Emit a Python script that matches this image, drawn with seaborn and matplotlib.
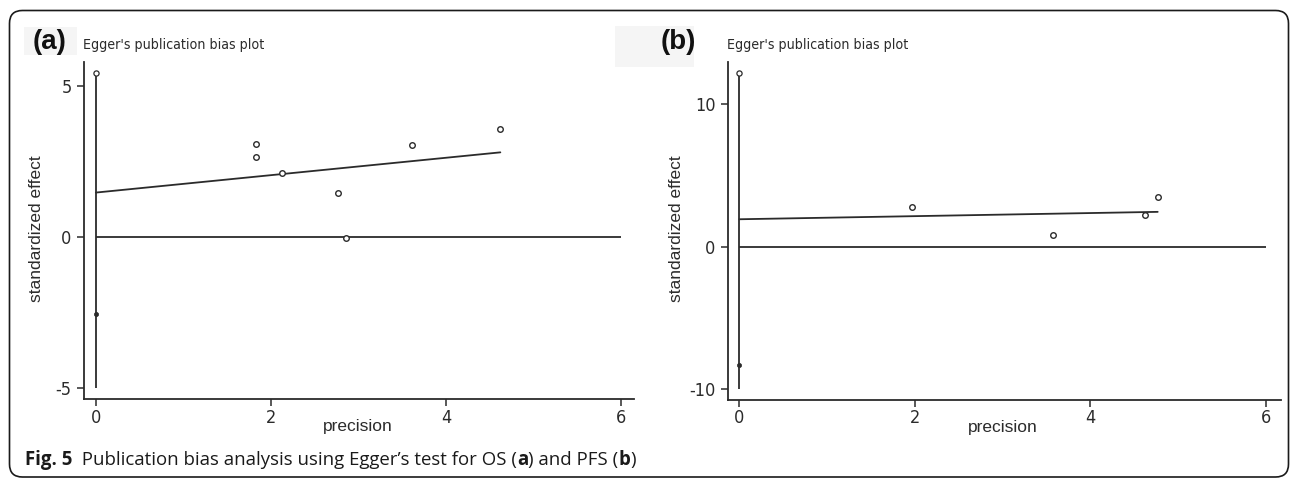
import matplotlib
matplotlib.use("Agg")
import matplotlib.pyplot as plt
from matplotlib import font_manager
from matplotlib.patches import FancyBboxPatch, Rectangle
import numpy as np
import pandas as pd
import seaborn as sns

# ---------------- data ----------------
# Panel (a): OS
prec_a = [1.83, 1.83, 2.13, 2.77, 2.86, 3.61, 4.62]
eff_a = [3.09, 2.64, 2.12, 1.47, -0.04, 3.05, 3.58]
intercept_a = 1.47
slope_a = 0.288
ci_a = [-5.0, 5.44]
bias_dot_a = -2.55

# Panel (b): PFS
prec_b = [1.97, 3.58, 4.63, 4.77]
eff_b = [2.79, 0.80, 2.21, 3.45]
intercept_b = 1.92
slope_b = 0.109
ci_b = [-10.0, 12.23]
bias_dot_b = -8.34

yticks_a = [-5, 0, 5]
yticks_b = [-10, 0, 10]
xticks = [0, 2, 4, 6]
panel_labels = ["(a)", "(b)"]
plot_title = "Egger's publication bias plot"
xlab = "precision"
ylab = "standardized effect"

# ---------------- style ----------------
sns.set_theme(style="white")
plt.rcParams["font.family"] = ["Liberation Sans", "DejaVu Sans"]


def narrow_props(size):
    cands = [f.fname for f in font_manager.fontManager.ttflist
             if ("Narrow" in f.fname or "Condensed" in f.fname)
             and "Bold" not in f.fname and "Oblique" not in f.fname
             and "Italic" not in f.fname]
    pref = [c for c in cands if "LiberationSansNarrow" in c] + \
           [c for c in cands if "DejaVuSansCondensed" in c] + cands
    if pref:
        return font_manager.FontProperties(fname=pref[0], size=size)
    return font_manager.FontProperties(family="DejaVu Sans", stretch="condensed", size=size)


ink = "#2b2b2b"
W, H = 1290, 479
fig = plt.figure(figsize=(W / 100, H / 100), dpi=100)
fig.patch.set_facecolor("white")

# faint gray boxes behind panel labels
fig.add_artist(Rectangle((24 / W, 1 - 55 / H), 53 / W, 28 / H, transform=fig.transFigure,
                         facecolor="#f5f5f5", edgecolor="none", zorder=0))
fig.add_artist(Rectangle((615 / W, 1 - 67 / H), 79 / W, 41 / H, transform=fig.transFigure,
                         facecolor="#f5f5f5", edgecolor="none", zorder=0))

# rounded border
fig.add_artist(FancyBboxPatch((9.5 / W, 2 / H), (1288.5 - 9.5) / W, (468.5 - 2) / H,
                              boxstyle="round,pad=0,rounding_size=0.010",
                              transform=fig.transFigure, facecolor="none",
                              edgecolor="#1a1a1a", linewidth=1.2, zorder=1,
                              mutation_aspect=W / H))

panels = [
    dict(rect=[84.2 / W, 1 - 399.3 / H, 550.1 / W, 337.6 / H], x=prec_a, y=eff_a,
         b0=intercept_a, b1=slope_a, ci=ci_a, dot=bias_dot_a, ylim=(-5.37, 5.80),
         yt=yticks_a, xlim=(-0.133, 6.15), label=panel_labels[0],
         lab_x=33, title_x=83, ylab_x=-0.0867),
    dict(rect=[727.9 / W, 1 - 399.7 / H, 552.6 / W, 338.0 / H], x=prec_b, y=eff_b,
         b0=intercept_b, b1=slope_b, ci=ci_b, dot=bias_dot_b, ylim=(-10.77, 13.0),
         yt=yticks_b, xlim=(-0.13, 6.17), label=panel_labels[1],
         lab_x=661, title_x=727, ylab_x=-0.093),
]

for p in panels:
    ax = fig.add_axes(p["rect"])
    ax.set_facecolor("none")
    df = pd.DataFrame({"precision": p["x"], "effect": p["y"]})
    # regression line
    xs = np.array([0.0, max(p["x"])])
    line_df = pd.DataFrame({"precision": xs, "effect": p["b0"] + p["b1"] * xs})
    sns.lineplot(data=line_df, x="precision", y="effect", ax=ax, color=ink,
                 linewidth=1.3, zorder=2)
    # zero reference line
    ax.hlines(0, 0, 6, color=ink, linewidth=1.3, zorder=2)
    # intercept CI
    ax.vlines(0, p["ci"][0], p["ci"][1], color=ink, linewidth=1.3, zorder=2)
    sns.scatterplot(x=[0], y=[p["ci"][1]], ax=ax, marker="o", s=14,
                    facecolor="white", edgecolor=ink, linewidth=0.9, zorder=3)
    sns.scatterplot(x=[0], y=[p["dot"]], ax=ax, marker="o", s=9,
                    color=ink, edgecolor=ink, linewidth=0.5, zorder=3)
    # study points
    sns.scatterplot(data=df, x="precision", y="effect", ax=ax, marker="o", s=16,
                    facecolor="white", edgecolor=ink, linewidth=1.0, zorder=3)

    ax.set_xlim(*p["xlim"])
    ax.set_ylim(*p["ylim"])
    ax.set_xticks(xticks)
    ax.set_yticks(p["yt"])
    tfp = narrow_props(13)
    ax.set_xticklabels([str(t) for t in xticks], fontproperties=tfp, color=ink)
    ax.set_yticklabels([str(t) for t in p["yt"]], fontproperties=tfp, color=ink)
    for s in ["top", "right"]:
        ax.spines[s].set_visible(False)
    for s in ["left", "bottom"]:
        ax.spines[s].set_color(ink)
        ax.spines[s].set_linewidth(1.3)
    ax.tick_params(axis="both", direction="out", length=5, width=1.1, color=ink,
                   left=True, bottom=True)
    ax.tick_params(axis="y", pad=4)
    ax.tick_params(axis="x", pad=2)

    ax.set_xlabel(xlab, fontsize=12.5, color=ink)
    ax.set_ylabel(ylab, fontsize=12.5, color=ink)
    ax.xaxis.label.set_va("center")
    ax.yaxis.label.set_va("center")
    ax.xaxis.set_label_coords(0.498, -(427 - 399.3) / 337.6)
    ax.yaxis.set_label_coords(p["ylab_x"], 0.5 + (0.5 * 337.6 - (228.5 - 61.7)) / 337.6)

    fig.text(p["lab_x"] / W, 1 - 42 / H, p["label"], fontsize=20, fontweight="bold",
             color="#111111", ha="left", va="center")
    fig.text(p["title_x"] / W, 1 - 45 / H, plot_title, fontproperties=narrow_props(10.2),
             color=ink, ha="left", va="center")

# caption with mixed weights
cap_ax = fig.add_axes([0, 0, 1, 1])
cap_ax.set_axis_off()
cap_ax.set_zorder(-1)
parts = [("Fig. 5", "bold"), ("  Publication bias analysis using Egger\u2019s test for OS (", "normal"),
         ("a", "bold"), (") and PFS (", "normal"), ("b", "bold"), (")", "normal")]
cap_font = ["Open Sans", "DejaVu Sans"]
cap_size = 13.4
prev = cap_ax.text(25 / W, 1 - 460 / H, parts[0][0], transform=cap_ax.transAxes,
                   fontsize=cap_size, fontweight=parts[0][1], family=cap_font,
                   color="#1a1a1a", ha="left", va="center")
for txt, wt in parts[1:]:
    prev = cap_ax.annotate(txt, xy=(1, 0.5), xycoords=prev, fontsize=cap_size, fontweight=wt,
                           family=cap_font, color="#1a1a1a", ha="left", va="center")

fig.savefig("out.png", dpi=100, facecolor="white")
